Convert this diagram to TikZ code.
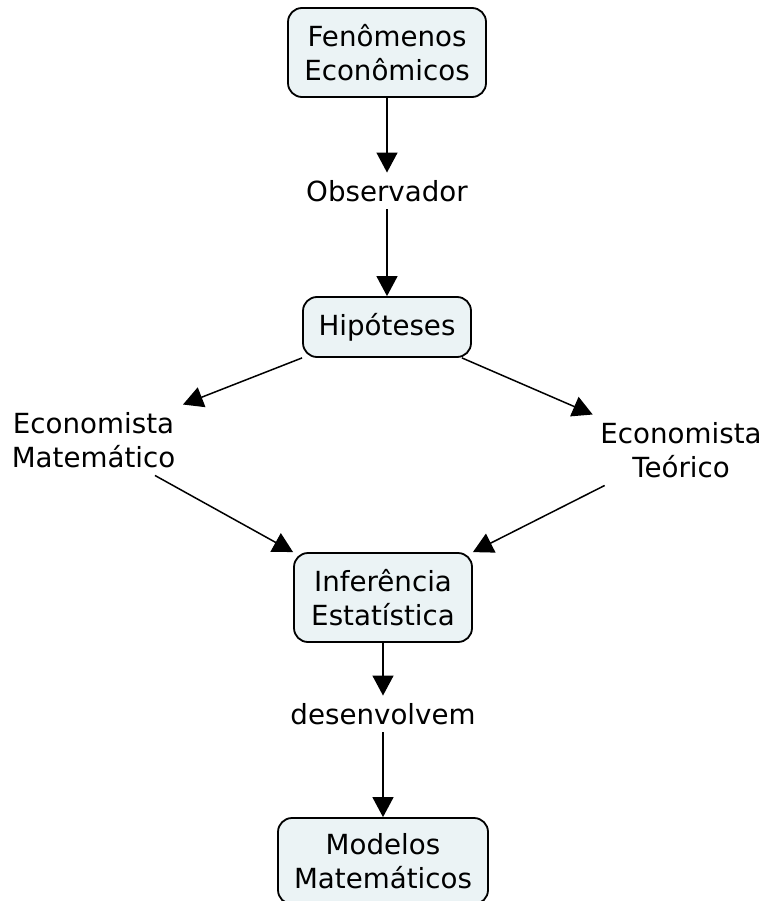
\documentclass[tikz,border=0pt]{standalone}
\usepackage{fontspec}
\setmainfont{DejaVu Sans}
\usetikzlibrary{arrows.meta,positioning}
\definecolor{boxfill}{HTML}{EBF3F5}

\begin{document}
\begin{tikzpicture}[x=1pt,y=-1pt,font=\fontsize{27.7}{34}\selectfont,
    >={Triangle[length=20pt,width=21pt]},->,line width=1.5pt,
    main/.style = {shape=rectangle, rounded corners=14pt, draw, line width=1.8pt, align=center, fill=boxfill, inner sep=0pt},
    phrase/.style = {align=center, inner sep=7pt}]
    \useasboundingbox (0,0) rectangle (764,901);

            \node (fen) [main,minimum width=198pt,minimum height=89pt] at (387,52.5) {Fenômenos\\Econômicos};
            \node (obs) [phrase] at (387,191) {Observador};
            \node (hip) [main,minimum width=168pt,minimum height=60pt] at (387,327) {Hipóteses};
            \node (ecm) [phrase] at (93.5,440) {Economista\\Matemático};
            \node (ect) [phrase] at (681,450) {Economista\\Teórico};
            \node (inf) [main,minimum width=178pt,minimum height=89pt] at (383,597.5) {Inferência\\Estatística};
            \node (des) [phrase] at (383,714) {desenvolvem};
            \node (mod) [main,minimum width=210pt,minimum height=86pt] at (383,861) {Modelos\\Matemáticos};

            \path (fen.south) edge (obs.north);
            \path (obs.south) edge (hip.north);
            \path (hip.south west) edge (ecm.north east);
            \path ([xshift=-10pt]hip.south east) edge (ect.north west);
            \path ([xshift=-28pt]ecm.south east) edge (inf.north west);
            \path ([xshift=12pt]ect.south west) edge (inf.north east);
            \path (inf.south) edge (des.north);
            \path (des.south) edge (mod.north);
\end{tikzpicture}
\end{document}
